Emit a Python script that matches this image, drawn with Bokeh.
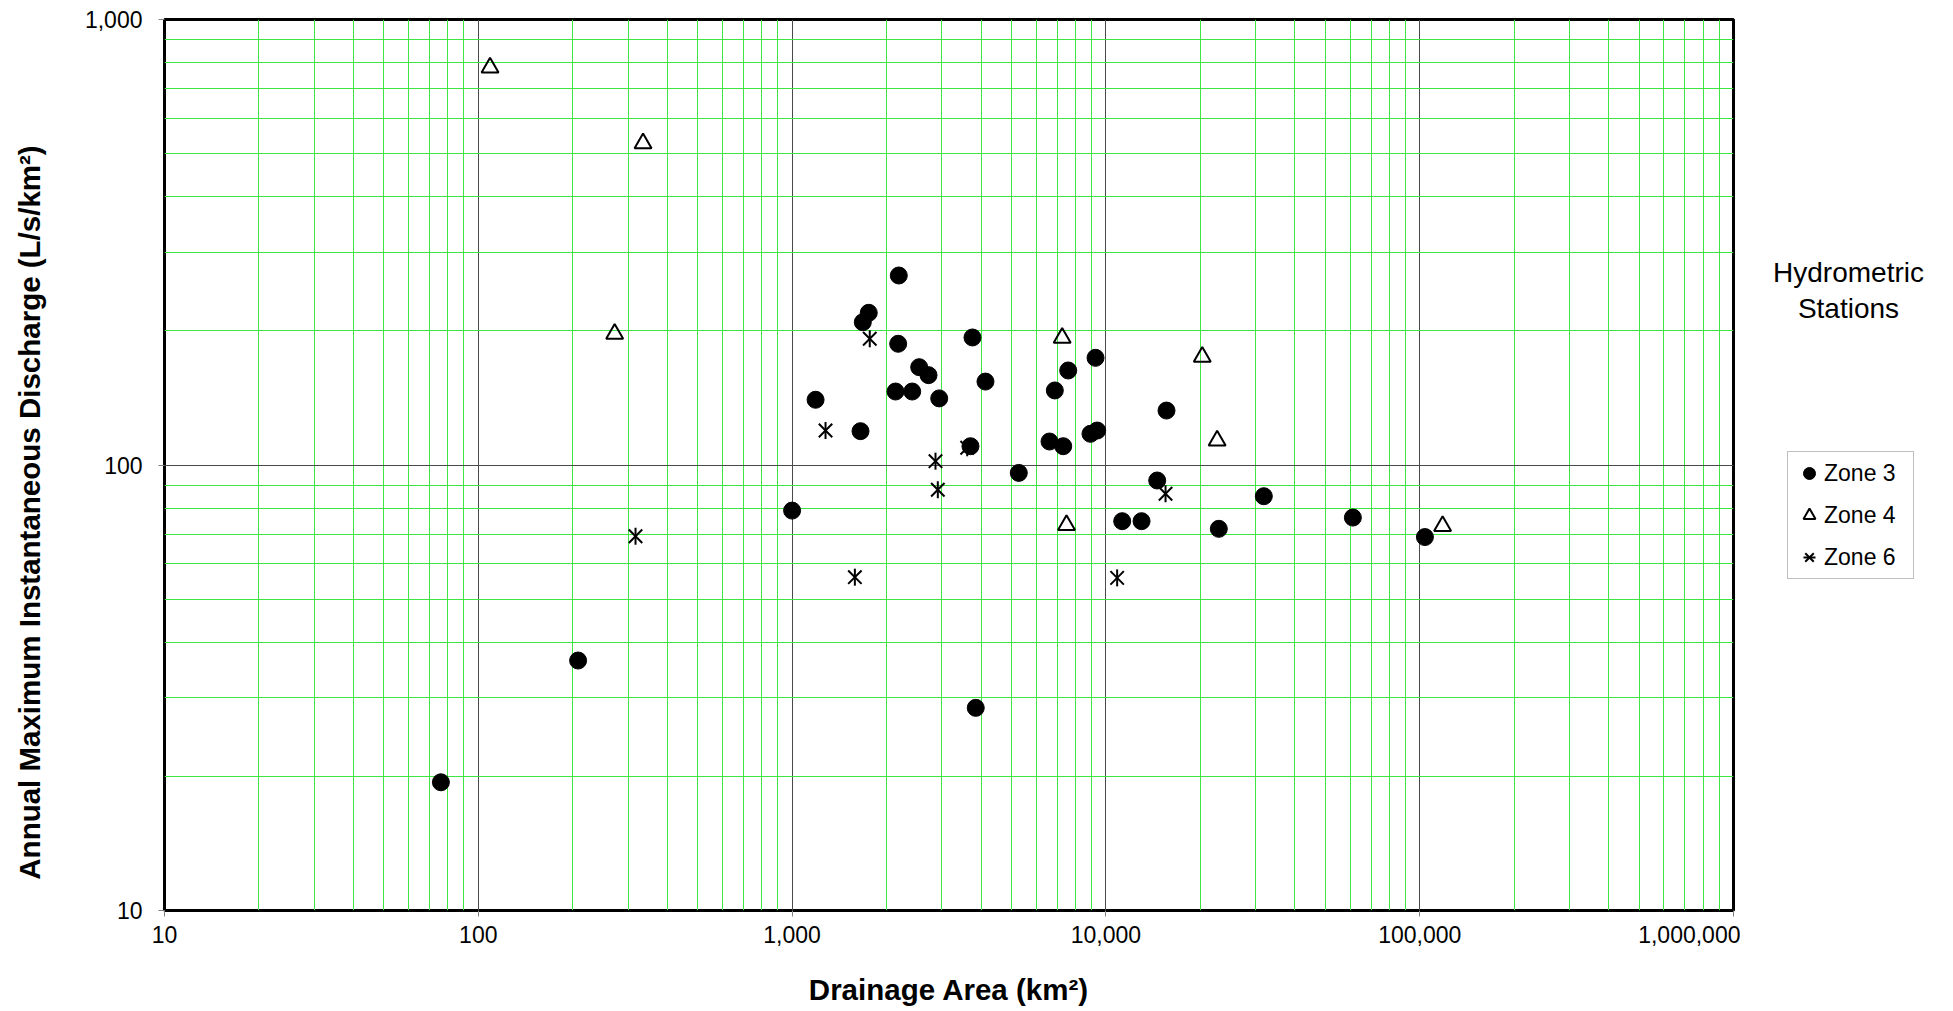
import math
from bokeh.plotting import figure
from bokeh.layouts import row
from bokeh.models import Range1d, FixedTicker, Label, Legend, LegendItem
from bokeh.embed import file_html
from bokeh.resources import INLINE

# ---- tick definitions ----
x_ticks = [10, 100, 1000, 10000, 100000, 1000000]
x_tick_labels = ["10", "100", "1,000", "10,000", "100,000", "1,000,000"]
y_ticks = [10, 100, 1000]
y_tick_labels = ["10", "100", "1,000"]
x_minor = [m * 10 ** e for e in range(1, 6) for m in range(2, 10)]
y_minor = [m * 10 ** e for e in range(1, 3) for m in range(2, 10)]

# ---- data (drainage area km2, discharge L/s/km2) ----
zone3_area = [76, 208, 1000, 1188, 1652, 1680, 1755, 2188, 2178, 2136,
              2414, 2541, 2721, 2943, 3757, 3702, 4133, 3848, 5278, 6612,
              6874, 7311, 7585, 9267, 8930, 9383, 11270, 12990, 14570, 15600,
              22900, 31860, 61240, 103900]
zone3_q = [19.4, 36.4, 79, 140.1, 119.1, 209.2, 219.6, 266.3, 187.1, 146.2,
           146.2, 165.8, 159.1, 141.1, 193.3, 110.2, 153.9, 28.5, 96.0, 112.9,
           147.0, 110.2, 163.0, 174.0, 117.5, 119.5, 74.8, 74.8, 92.3, 132.5,
           71.9, 85.1, 76.2, 68.9]

zone4_area = [109, 335, 272, 7256, 20280, 22620, 7490, 118300]
zone4_q = [780, 527, 197, 193, 175, 113.5, 73.3, 72.9]

zone6_area = [317, 1278, 1768, 1585, 2864, 2913, 3614, 10860, 15490]
zone6_q = [69.2, 119.5, 192.0, 56, 102.0, 88.0, 109.3, 55.8, 86.2]

series_names = ["Zone 3", "Zone 4", "Zone 6"]
legend_heading = ["Hydrometric", "Stations"]
x_title = "Drainage Area (km\u00b2)"
y_title = "Annual Maximum Instantaneous Discharge (L/s/km\u00b2)"

FONT = "Liberation Sans"
FIG_H = 1011
TOP, BOTTOM = 19, 101          # borders around the plotting frame
FRAME_BOTTOM = FIG_H - BOTTOM  # 910
LEFT_W = 60                    # strip holding the y-axis title
MAIN_W = 1740
SIDE_W = 1945 - MAIN_W

# ================= left strip: y-axis title =================
t = figure(width=LEFT_W, height=FIG_H,
           x_range=Range1d(0, LEFT_W), y_range=Range1d(FRAME_BOTTOM, TOP),
           output_backend="svg", toolbar_location=None,
           x_axis_location=None, y_axis_location=None,
           min_border_left=0, min_border_right=0,
           min_border_top=TOP, min_border_bottom=BOTTOM)
t.outline_line_color = None
t.xgrid.visible = False
t.ygrid.visible = False
t.add_layout(Label(x=29, y=512, text=y_title, angle=math.pi / 2,
                   text_align="center", text_baseline="middle",
                   text_font=FONT, text_font_style="bold",
                   text_font_size="29.5px", text_color="black"))

# ================= main chart =================
p = figure(width=MAIN_W - LEFT_W, height=FIG_H,
           x_axis_type="log", y_axis_type="log",
           x_range=Range1d(10, 1e6), y_range=Range1d(10, 1000),
           output_backend="svg", toolbar_location=None,
           min_border_left=164 - LEFT_W, min_border_right=7,
           min_border_top=TOP, min_border_bottom=BOTTOM)

p.background_fill_color = "white"
p.border_fill_color = "white"
p.outline_line_color = "black"
p.outline_line_width = 3

p.xaxis.ticker = FixedTicker(ticks=x_ticks, minor_ticks=x_minor)
p.yaxis.ticker = FixedTicker(ticks=y_ticks, minor_ticks=y_minor)
p.xaxis.major_label_overrides = {t_: l for t_, l in zip(x_ticks, x_tick_labels)}
p.yaxis.major_label_overrides = {t_: l for t_, l in zip(y_ticks, y_tick_labels)}

for ax in (p.xaxis, p.yaxis):
    ax.axis_line_color = None
    ax.major_tick_out = 6
    ax.major_tick_in = 0
    ax.major_tick_line_color = "#808080"
    ax.minor_tick_line_color = None
    ax.major_label_text_font = FONT
    ax.major_label_text_font_size = "23px"
    ax.major_label_text_color = "black"

p.yaxis.major_label_standoff = 16
p.xaxis.major_label_standoff = 9
p.xaxis.axis_label = x_title
p.xaxis.axis_label_text_font = FONT
p.xaxis.axis_label_text_font_style = "bold"
p.xaxis.axis_label_text_font_size = "29.5px"
p.xaxis.axis_label_text_color = "black"
p.xaxis.axis_label_standoff = 27

for g in (p.xgrid, p.ygrid):
    g.grid_line_color = "#4a4a4a"
    g.grid_line_width = 1
    g.minor_grid_line_color = "#3fe63f"
    g.minor_grid_line_width = 1

p.scatter(zone3_area, zone3_q, marker="circle", size=17,
          fill_color="black", line_color="black")
p.scatter(zone4_area, zone4_q, marker="triangle", size=17,
          fill_color=None, line_color="black", line_width=2)
p.scatter(zone6_area, zone6_q, marker="x", size=19,
          line_color="black", line_width=2)
p.scatter(zone6_area, zone6_q, marker="dash", size=17, angle=math.pi / 2,
          line_color="black", line_width=2)

# ================= side panel: legend heading + legend =================
q = figure(width=SIDE_W, height=FIG_H,
           x_range=Range1d(0, SIDE_W), y_range=Range1d(FRAME_BOTTOM, TOP),
           output_backend="svg", toolbar_location=None,
           x_axis_location=None, y_axis_location=None,
           min_border_left=0, min_border_right=0,
           min_border_top=TOP, min_border_bottom=BOTTOM)
q.outline_line_color = None
q.xgrid.visible = False
q.ygrid.visible = False
q.background_fill_color = "white"
q.border_fill_color = "white"

for txt, yy in zip(legend_heading, [272, 308]):
    q.add_layout(Label(x=108, y=yy, text=txt, text_align="center",
                       text_baseline="alphabetic", text_font=FONT,
                       text_font_size="28px", text_color="black"))

nan = float("nan")
k3 = q.scatter([nan], [nan], marker="circle", size=17,
               fill_color="black", line_color="black")
k4 = q.scatter([nan], [nan], marker="triangle", size=17,
               fill_color=None, line_color="black", line_width=2)
k6a = q.scatter([nan], [nan], marker="x", size=19,
                line_color="black", line_width=2)
k6b = q.scatter([nan], [nan], marker="dash", size=17, angle=math.pi / 2,
                line_color="black", line_width=2)

legend = Legend(items=[LegendItem(label=series_names[0], renderers=[k3]),
                       LegendItem(label=series_names[1], renderers=[k4]),
                       LegendItem(label=series_names[2], renderers=[k6a, k6b])],
                location=(47, FRAME_BOTTOM - 579))
legend.border_line_color = "#808080"
legend.border_line_width = 1
legend.background_fill_color = "white"
legend.background_fill_alpha = 1
legend.padding = 6
legend.spacing = 12
legend.glyph_width = 30
legend.glyph_height = 30
legend.label_standoff = -15
legend.label_width = 83
legend.label_text_font = FONT
legend.label_text_font_size = "23px"
legend.label_text_color = "black"
legend.margin = 0
q.add_layout(legend)

layout = row(t, p, q)
open("out.html", "w").write(file_html(layout, INLINE))
